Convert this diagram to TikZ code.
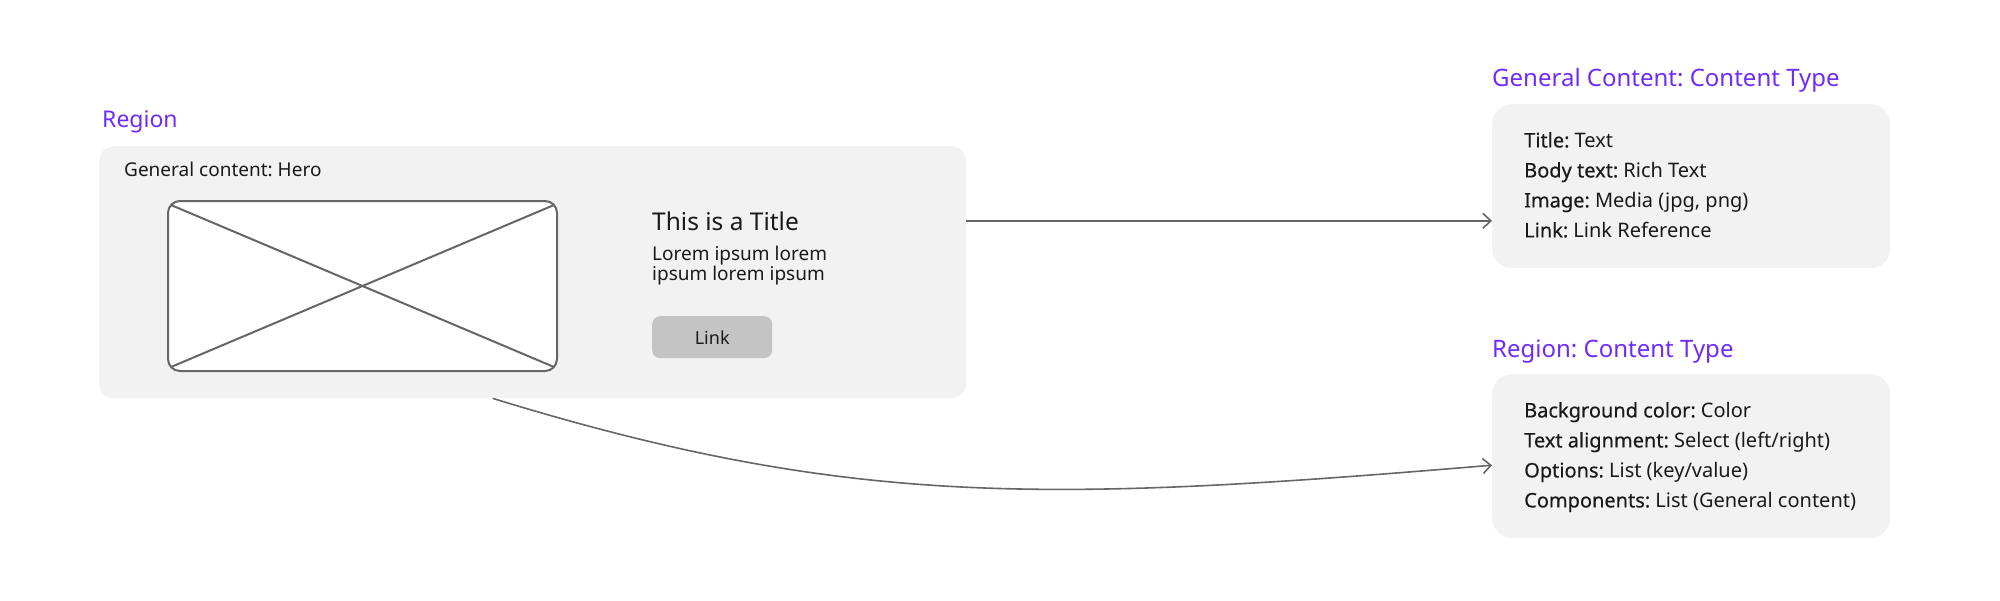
\documentclass[tikz,border=0pt]{standalone}
\usepackage{fontspec}
\setmainfont{Noto Sans}
\newfontfamily\keyfont{Noto Sans}[FakeBold=0.4]
\usetikzlibrary{positioning,calc,arrows.meta}
\definecolor{accent}{HTML}{6E2BFF}
\definecolor{panelgray}{HTML}{F2F2F2}
\definecolor{wire}{HTML}{666666}
\definecolor{btngray}{HTML}{C4C4C4}
\definecolor{ink}{HTML}{1A1A1A}
\newcommand{\fieldkey}[1]{{\keyfont #1}}
\frenchspacing

\begin{document}
\begin{tikzpicture}[x=1pt,y=-1pt,
    panel/.style={fill=panelgray, inner sep=0pt, anchor=north west},
    heading/.style={text=accent, anchor=base west, inner sep=0pt, font=\fontsize{24}{28}\selectfont},
    plain/.style={text=ink, anchor=base west, inner sep=0pt},
    fieldlist/.style={text=ink, anchor=north west, inner sep=0pt, align=left, font=\fontsize{20}{30}\selectfont},
    wireline/.style={draw=wire, line width=2pt},
    link/.style={draw=wire, line width=1.6pt, -{Straight Barb[length=8pt,width=15pt]}}]
    \useasboundingbox (0,0) rectangle (2000,600);
    % Region with the hero
    \node[heading, font=\fontsize{23}{28}\selectfont] (regionlbl) at (102,127) {Region};
    \node[panel, rounded corners=15pt, minimum width=867pt, minimum height=252pt] (hero) at (99,146) {};
    \node[plain, font=\fontsize{19}{23}\selectfont] (herolbl) at (124,176) {General content: Hero};
    \node[panel, fill=white, draw=wire, line width=2pt, rounded corners=12pt, minimum width=389pt, minimum height=170pt] (photo) at (167,200) {};
    \draw[wireline] ([shift={(4,5)}]photo.north west) -- ([shift={(-4,-5)}]photo.south east);
    \draw[wireline] ([shift={(4,-5)}]photo.south west) -- ([shift={(-4,5)}]photo.north east);
    \node[plain, font=\fontsize{24.5}{28}\selectfont] (title) at (652,230) {This is a Title};
    \node[plain, anchor=north west, align=left, font=\fontsize{19}{20}\selectfont] (body) at (652,246) {Lorem ipsum lorem\\ipsum lorem ipsum};
    \node[panel, fill=btngray, rounded corners=8pt, minimum width=120pt, minimum height=42pt, text=ink, font=\fontsize{18}{22}\selectfont] (linkbtn) at (652,316) {Link};
    % Content types
    \node[heading] (gclbl) at (1492,86) {General Content: Content Type};
    \node[panel, rounded corners=20pt, minimum width=398pt, minimum height=164pt] (ctgeneral) at (1492,104) {};
    \node[fieldlist] (gcfields) at (1524,132) {\fieldkey{Title:} Text\\\fieldkey{Body text:} Rich Text\\\fieldkey{Image:} Media (jpg, png)\\\fieldkey{Link:} Link Reference};
    \node[heading] (rglbl) at (1492,357) {Region: Content Type};
    \node[panel, rounded corners=20pt, minimum width=398pt, minimum height=164pt] (ctregion) at (1492,374) {};
    \node[fieldlist] (rgfields) at (1524,402) {\fieldkey{Background color:} Color\\\fieldkey{Text alignment:} Select (left/right)\\\fieldkey{Options:} List (key/value)\\\fieldkey{Components:} List (General content)};
    % Links
    \draw[link] (hero.east |- title) -- (ctgeneral.west |- title);
    \draw[link] ($(hero.south west)!0.454!(hero.south east)$) .. controls +(358,110) and +(-442,37) .. ([yshift=-9pt]ctregion.west);
\end{tikzpicture}
\end{document}
